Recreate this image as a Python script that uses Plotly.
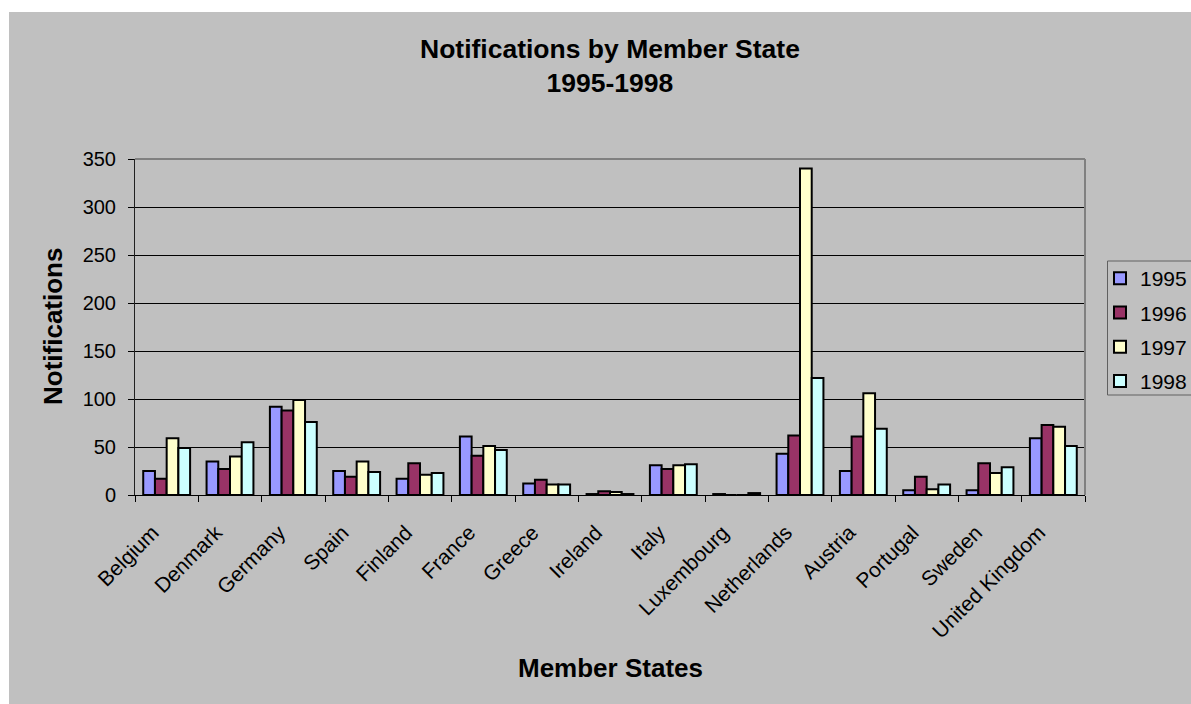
import plotly.graph_objects as go

countries = ["Belgium", "Denmark", "Germany", "Spain", "Finland", "France", "Greece",
             "Ireland", "Italy", "Luxembourg", "Netherlands", "Austria", "Portugal",
             "Sweden", "United Kingdom"]
years = ["1995", "1996", "1997", "1998"]
v1995 = [25, 35, 92, 25, 17, 61, 12, 1, 31, 1, 43, 25, 5, 5, 59]
v1996 = [17, 27, 88, 19, 33, 41, 16, 4, 27, 0, 62, 61, 19, 33, 73]
v1997 = [59, 40, 99, 35, 21, 51, 11, 3, 31, 0, 340, 106, 6, 23, 71]
v1998 = [49, 55, 76, 24, 23, 47, 11, 1, 32, 2, 122, 69, 11, 29, 51]
y_ticks = [0, 50, 100, 150, 200, 250, 300, 350]

series = [v1995, v1996, v1997, v1998]
colors = ["#9999FF", "#993366", "#FFFFCC", "#CCFFFF"]

BG = "#C0C0C0"
FONT = "Liberation Sans, Arial, sans-serif"

fig = go.Figure()
for name, vals, col in zip(years, series, colors):
    fig.add_trace(go.Bar(
        x=countries, y=vals, name=name, legendgroup=name,
        marker=dict(color=col, line=dict(color="black", width=2)),
    ))

W, H = 1191, 704
L, R, T, B = 135, 106, 159, 209
pw = W - L - R
ph = H - T - B

def px2x(p):
    return (p - L) / pw

def px2y(p):
    return (H - B - p) / ph

fig.update_layout(
    width=W, height=H, autosize=False,
    margin=dict(l=L, r=R, t=T, b=B, pad=0, autoexpand=False),
    paper_bgcolor=BG, plot_bgcolor=BG,
    barmode="group", bargap=0.26, bargroupgap=0,
    font=dict(family=FONT, color="black", size=20),
    showlegend=True,
    legend=dict(
        x=px2x(1100), y=px2y(258), xanchor="left", yanchor="top",
        bgcolor="rgba(0,0,0,0)", borderwidth=0,
        font=dict(size=21, family=FONT),
        traceorder="grouped", tracegroupgap=4,
    ),
    xaxis=dict(
        type="category", tickangle=-45, tickson="boundaries",
        ticks="outside", ticklen=6, tickcolor="black", tickwidth=1,
        showline=True, linecolor="black", linewidth=1,
        showgrid=False, tickfont=dict(size=21),
        ticklabelstandoff=16, ticklabelshift=-14,
    ),
    yaxis=dict(
        range=[0, 350], tickvals=y_ticks,
        ticks="outside", ticklen=6, tickcolor="black", tickwidth=1,
        showline=True, linecolor="#202020", linewidth=1,
        showgrid=True, gridcolor="black", gridwidth=1,
        zeroline=False, tickfont=dict(size=20),
        ticklabelstandoff=8,
    ),
    annotations=[
        dict(text="<b>Notifications by Member State<br>1995-1998</b>",
             x=0.5, y=px2y(66), xref="paper", yref="paper",
             xanchor="center", yanchor="middle", showarrow=False,
             font=dict(size=26.5, family=FONT)),
        dict(text="<b>Notifications</b>", textangle=-90,
             x=px2x(53), y=px2y(327), xref="paper", yref="paper",
             xanchor="center", yanchor="middle", showarrow=False,
             font=dict(size=26, family=FONT)),
        dict(text="<b>Member States</b>",
             x=px2x(610), y=px2y(668), xref="paper", yref="paper",
             xanchor="center", yanchor="middle", showarrow=False,
             font=dict(size=26, family=FONT)),
    ],
    shapes=[
        dict(type="rect", xref="paper", yref="paper",
             x0=px2x(0), x1=px2x(W + 5), y0=px2y(0), y1=px2y(12),
             fillcolor="white", line=dict(width=0), layer="above"),
        dict(type="rect", xref="paper", yref="paper",
             x0=px2x(0), x1=px2x(9), y0=px2y(0), y1=px2y(H + 5),
             fillcolor="white", line=dict(width=0), layer="above"),
        dict(type="line", xref="paper", yref="paper", x0=0, x1=1, y0=1, y1=1,
             line=dict(color="#808080", width=2), layer="above"),
        dict(type="line", xref="paper", yref="paper", x0=1, x1=1, y0=0, y1=1,
             line=dict(color="#808080", width=2), layer="above"),
        dict(type="rect", xref="paper", yref="paper",
             x0=px2x(1107.5), x1=px2x(1200), y0=px2y(261), y1=px2y(395),
             fillcolor="rgba(0,0,0,0)", line=dict(color="#606060", width=1),
             layer="above"),
    ],
)

fig.write_html(
    "out.html",
    config={"responsive": False, "displayModeBar": False},
    post_script="document.body.style.margin='0';document.body.style.overflow='hidden';"
                "document.documentElement.style.overflow='hidden';",
)
